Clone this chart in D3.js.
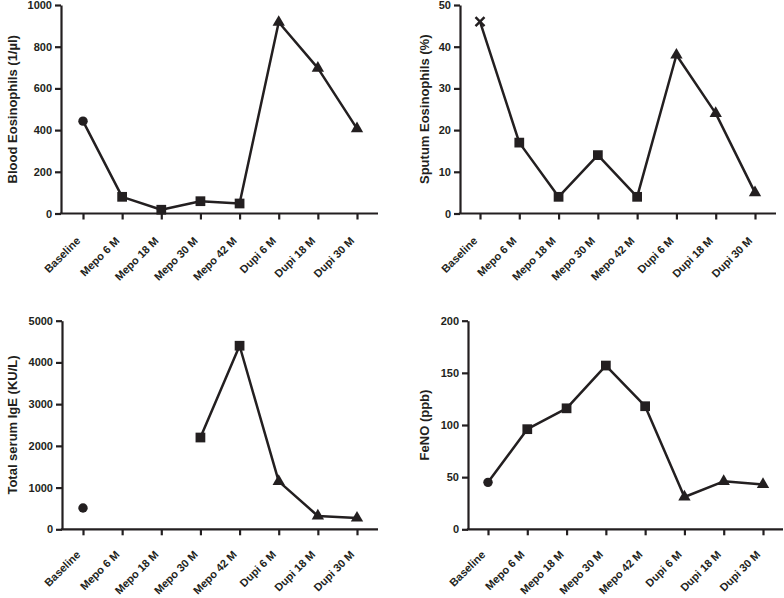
<!DOCTYPE html>
<html>
<head>
<meta charset="utf-8">
<script src="https://cdn.jsdelivr.net/npm/d3@7"></script>
<style>
  body { margin: 0; background: #fff; }
  svg { display: block; }
  text { font-family: "Liberation Sans", Arial, sans-serif; font-weight: bold; fill: #231f20; }
</style>
</head>
<body>
<svg id="chart" width="784" height="598"></svg>
<script>
// ---- data ----
const categories = ["Baseline", "Mepo 6 M", "Mepo 18 M", "Mepo 30 M", "Mepo 42 M", "Dupi 6 M", "Dupi 18 M", "Dupi 30 M"];
const bloodEos = [443, 80, 18, 59, 48, 917, 697, 407];
const sputumEos = [46, 17, 4, 14, 4, 38, 24, 5];
const totalIgE = [510, null, null, 2200, 4400, 1150, 320, 270];
const feno = [45, 96, 116, 157, 118, 31, 46, 43];
const markersDefault = ["circle", "square", "square", "square", "square", "triangle", "triangle", "triangle"];
const markersSputum = ["cross", "square", "square", "square", "square", "triangle", "triangle", "triangle"];
const bloodTicks = [0, 200, 400, 600, 800, 1000];
const sputumTicks = [0, 10, 20, 30, 40, 50];
const igeTicks = [0, 1000, 2000, 3000, 4000, 5000];
const fenoTicks = [0, 50, 100, 150, 200];
const titles = ["Blood Eosinophils (1/µl)", "Sputum Eosinophils (%)", "Total serum IgE (KU/L)", "FeNO (ppb)"];

// ---- layout ----
const panels = [
  { values: bloodEos, markers: markersDefault, ticks: bloodTicks, title: titles[0],
    yAxisX: 61, endX: 378, x0: 83, x1: 357, yTop: 5, yBottom: 213.5, labelX: 16.5, tickDy: 28 },
  { values: sputumEos, markers: markersSputum, ticks: sputumTicks, title: titles[1],
    yAxisX: 460, endX: 776, x0: 480, x1: 755, yTop: 5, yBottom: 213.5, labelX: 429, tickDy: 28 },
  { values: totalIgE, markers: markersDefault, ticks: igeTicks, title: titles[2],
    yAxisX: 62, endX: 378, x0: 83, x1: 357, yTop: 320.7, yBottom: 529.3, labelX: 16.5, tickDy: 26 },
  { values: feno, markers: markersDefault, ticks: fenoTicks, title: titles[3],
    yAxisX: 468, endX: 783, x0: 488, x1: 763, yTop: 320.7, yBottom: 529.3, labelX: 428.5, tickDy: 26 }
];

const ink = "#231f20";
const svg = d3.select("#chart");

panels.forEach(p => {
  const g = svg.append("g");
  const x = d3.scalePoint().domain(categories).range([p.x0, p.x1]).padding(0);
  const y = d3.scaleLinear().domain([p.ticks[0], p.ticks[p.ticks.length - 1]]).range([p.yBottom, p.yTop]);

  // y axis
  const yAx = g.append("g").attr("transform", `translate(${p.yAxisX},0)`)
    .call(d3.axisLeft(y).tickValues(p.ticks).tickFormat(d3.format("d")).tickSize(6).tickPadding(3).tickSizeOuter(0));
  yAx.select(".domain").attr("stroke", ink).attr("stroke-width", 2.2);
  yAx.selectAll(".tick line").attr("stroke", ink).attr("stroke-width", 2.2);
  yAx.selectAll(".tick text").style("font-size", "11px").attr("fill", ink);

  // x axis
  const xAx = g.append("g").attr("transform", `translate(0,${p.yBottom})`)
    .call(d3.axisBottom(x).tickSize(6).tickSizeOuter(0));
  xAx.select(".domain").remove();
  xAx.selectAll(".tick line").attr("stroke", ink).attr("stroke-width", 2.2);
  xAx.selectAll(".tick text")
    .style("font-size", "11px").attr("fill", ink)
    .attr("text-anchor", "end").attr("x", 0).attr("y", 0).attr("dy", 0)
    .attr("transform", `translate(-2.5,${p.tickDy}) rotate(-45)`);
  g.append("line")
    .attr("x1", p.yAxisX - 1.1).attr("x2", p.endX)
    .attr("y1", p.yBottom).attr("y2", p.yBottom)
    .attr("stroke", ink).attr("stroke-width", 2.2);

  // y label
  g.append("text")
    .attr("transform", `translate(${p.labelX},${(p.yTop + p.yBottom) / 2}) rotate(-90)`)
    .attr("text-anchor", "middle")
    .style("font-size", "13px")
    .text(p.title);

  // line
  const pts = categories.map((c, i) => ({ c, v: p.values[i], m: p.markers[i] }));
  const line = d3.line().defined(d => d.v != null).x(d => x(d.c)).y(d => y(d.v));
  g.append("path").datum(pts).attr("d", line)
    .attr("fill", "none").attr("stroke", ink).attr("stroke-width", 2.5).attr("stroke-linejoin", "round");

  // markers
  const sym = { circle: d3.symbol(d3.symbolCircle, 70), square: d3.symbol(d3.symbolSquare, 95), triangle: d3.symbol(d3.symbolTriangle, 66) };
  pts.filter(d => d.v != null).forEach(d => {
    const cx = x(d.c), cy = y(d.v);
    if (d.m === "cross") {
      const s = 4.5;
      g.append("path").attr("d", `M${cx - s},${cy - s}L${cx + s},${cy + s}M${cx - s},${cy + s}L${cx + s},${cy - s}`)
        .attr("stroke", ink).attr("stroke-width", 2.4).attr("fill", "none");
    } else {
      g.append("path").attr("d", sym[d.m]()).attr("transform", `translate(${cx},${cy})`).attr("fill", ink);
    }
  });
});
</script>
</body>
</html>
